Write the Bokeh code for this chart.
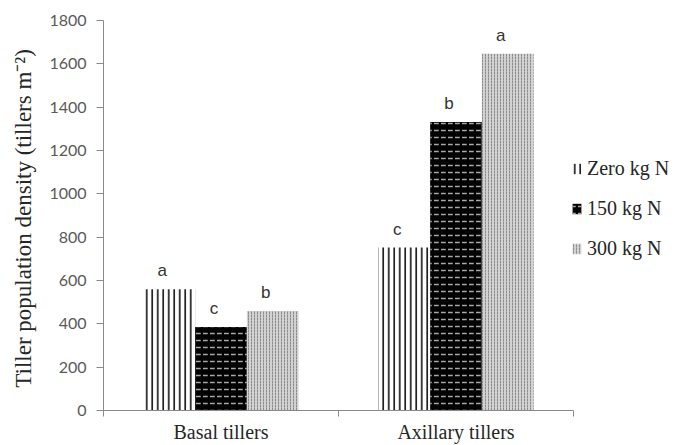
from bokeh.plotting import figure
from bokeh.models import (ColumnDataSource, Range1d, FixedTicker, Legend, LegendItem)
from bokeh.core.properties import value
from bokeh.embed import file_html
from bokeh.resources import INLINE

# ---- data ----
categories = ["Basal tillers", "Axillary tillers"]
treatments = ["Zero kg N", "150 kg N", "300 kg N"]
zero_n = [560, 752]
n150 = [385, 1332]
n300 = [459, 1647]
letters_zero = ["a", "c"]
letters_150 = ["c", "b"]
letters_300 = ["b", "a"]
y_ticks = [0, 200, 400, 600, 800, 1000, 1200, 1400, 1600, 1800]

series = [zero_n, n150, n300]
letters = [letters_zero, letters_150, letters_300]
offsets = [-0.22, 0.0, 0.22]
bar_w = 0.22

styles = [
    dict(fill_color="white", hatch_pattern="|", hatch_color="#111111",
         hatch_scale=5.5, hatch_weight=1.6),
    dict(fill_color="black", hatch_pattern='"', hatch_color="#a8a8a8",
         hatch_scale=7, hatch_weight=1.5),
    dict(fill_color="#d2d2d2", hatch_pattern=":", hatch_color="#8c8c8c",
         hatch_scale=3, hatch_weight=1.0),
]

ncat = len(categories)
# frame extends right so the legend sits inside it; the axis line stops at ncat
x_end = ncat * (685 - 103) / 470.0

p = figure(width=685, height=445, output_backend="svg", toolbar_location=None,
           x_range=Range1d(0, x_end), y_range=Range1d(0, 1800),
           min_border_left=103, min_border_right=0, min_border_top=20,
           min_border_bottom=33)
p.outline_line_color = None
p.xgrid.visible = False
p.ygrid.visible = False
p.background_fill_color = "white"
p.border_fill_color = "white"

renderers = []
for k, vals in enumerate(series):
    xs = [i + 0.5 + offsets[k] for i in range(ncat)]
    src = ColumnDataSource(dict(x=xs, top=vals, lab=letters[k]))
    r = p.vbar(x="x", top="top", width=bar_w, source=src, line_color=None,
               **styles[k])
    renderers.append(r)
    p.text(x="x", y="top", text="lab", source=src, text_align="center",
           text_baseline="bottom", x_offset=-7, y_offset=-9,
           text_font=value("Liberation Sans"), text_font_size="17px",
           text_color="#333333")

# y axis
ya = p.yaxis[0]
ya.ticker = FixedTicker(ticks=y_ticks, minor_ticks=[])
ya.axis_line_color = "#8a8a8a"
ya.major_tick_line_color = "#8a8a8a"
ya.major_tick_out = 7
ya.major_tick_in = 0
ya.major_label_standoff = 10
ya.major_label_text_font = "Lato"
ya.major_label_text_font_size = "16px"
ya.major_label_text_color = "#595959"
ya.axis_label = "Tiller population  density (tillers m\u207b\u00b2)"
ya.axis_label_text_font = "Liberation Serif"
ya.axis_label_text_font_style = "normal"
ya.axis_label_text_font_size = "23px"
ya.axis_label_text_color = "#262626"
ya.axis_label_standoff = 10

# x axis
xa = p.xaxis[0]
xa.bounds = (0, ncat)
xa.ticker = FixedTicker(ticks=[i + 0.5 for i in range(ncat)],
                        minor_ticks=list(range(ncat + 1)))
xa.major_label_overrides = {i + 0.5: c for i, c in enumerate(categories)}
xa.axis_line_color = "#8a8a8a"
xa.major_tick_line_color = None
xa.major_tick_out = 0
xa.major_tick_in = 0
xa.minor_tick_line_color = "#8a8a8a"
xa.minor_tick_out = 6
xa.minor_tick_in = 0
xa.major_label_standoff = 4
xa.major_label_text_font = "Liberation Serif"
xa.major_label_text_font_size = "20px"
xa.major_label_text_color = "#262626"

legend = Legend(items=[LegendItem(label=t, renderers=[renderers[k]])
                       for k, t in enumerate(treatments)],
                location=(468, 150), orientation="vertical",
                glyph_width=11, glyph_height=13, label_standoff=5,
                label_height=20, spacing=17, padding=0, margin=0,
                border_line_color=None, background_fill_alpha=0,
                label_text_font="Liberation Serif", label_text_font_size="20px",
                label_text_color="#262626")
p.add_layout(legend, "center")

open("out.html", "w").write(file_html(p, INLINE))
